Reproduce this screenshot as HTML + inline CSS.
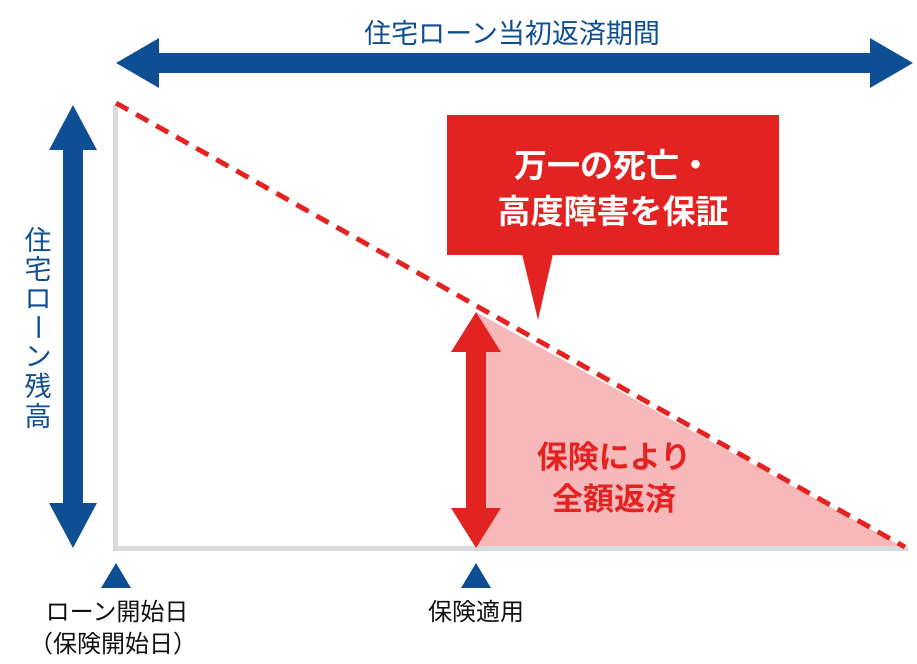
<!DOCTYPE html>
<html><head><meta charset="utf-8"><style>
html,body{margin:0;padding:0;background:#fff;}
svg{display:block;font-family:"Liberation Sans","Noto Sans CJK JP",sans-serif;}
</style></head><body>
<svg width="917" height="664" viewBox="0 0 917 664" xmlns="http://www.w3.org/2000/svg">
<polygon points="116,63 159,38 159,53 870,53 870,38 913,63 870,88 870,73 159,73 159,88" fill="#0e4e92"/>
<text x="512" y="43" font-size="27" fill="#0e4e92" text-anchor="middle">住宅ローン当初返済期間</text>
<polygon points="73,105 97,150 83,150 83,503 97,503 73,548 49,503 63,503 63,150 49,150" fill="#0e4e92"/>
<g font-size="27" fill="#0e4e92" text-anchor="middle">
<text x="38" y="250">住</text>
<text x="38" y="279">宅</text>
<text x="38" y="308">ロ</text>
<text x="38" y="337" transform="rotate(90 38 327)">ー</text>
<text x="38" y="366">ン</text>
<text x="38" y="396">残</text>
<text x="38" y="426">高</text>
</g>
<polygon points="476,312 905,548 476,548" fill="#f6b8b9"/>
<rect x="113" y="105" width="5" height="446" fill="#d9d9d9"/>
<rect x="113" y="546" width="795" height="5" fill="#d9d9d9"/>
<line x1="116" y1="103" x2="905" y2="547" stroke="#e32322" stroke-width="5" stroke-dasharray="14,9"/>
<polygon points="476,312 501,352 486,352 486,508 501,508 476,548 451,508 466,508 466,352 451,352" fill="#e32322"/>
<rect x="447" y="115" width="332" height="140" fill="#e32322"/>
<polygon points="522,254 553,254 538,320" fill="#e32322"/>
<text x="613" y="177" font-size="33" font-weight="bold" fill="#fff" text-anchor="middle">万一の死亡・</text>
<text x="613" y="223" font-size="33" font-weight="bold" fill="#fff" text-anchor="middle">高度障害を保証</text>
<text x="614" y="468" font-size="31" font-weight="bold" fill="#e32322" text-anchor="middle">保険により</text>
<text x="614" y="510" font-size="31" font-weight="bold" fill="#e32322" text-anchor="middle">全額返済</text>
<polygon points="116,563 131,588 101,588" fill="#0e4e92"/>
<polygon points="476,563 491,588 461,588" fill="#0e4e92"/>
<text x="117" y="620" font-size="24" fill="#111" text-anchor="middle">ローン開始日</text>
<text x="113" y="652" font-size="24" fill="#111" text-anchor="middle">（保険開始日）</text>
<text x="476" y="620" font-size="24" fill="#111" text-anchor="middle">保険適用</text>
</svg>
</body></html>
